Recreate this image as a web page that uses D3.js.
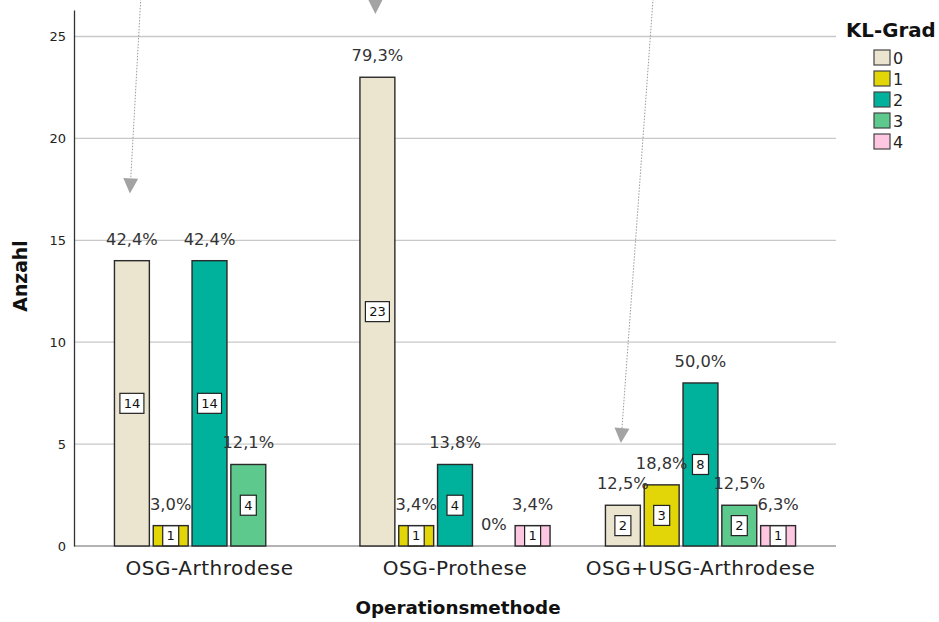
<!DOCTYPE html>
<html>
<head>
<meta charset="utf-8">
<script src="https://cdn.jsdelivr.net/npm/d3@7/dist/d3.min.js"></script>
<style>
  html, body { margin: 0; padding: 0; background: #fff; }
  svg { display: block; font-family: "DejaVu Sans", sans-serif; }
</style>
</head>
<body>
<svg id="chart" width="939" height="622"></svg>
<script>
// Operationsmethode × KL-Grad: counts per grade, percent of row total
const categories = ["OSG-Arthrodese", "OSG-Prothese", "OSG+USG-Arthrodese"];
const grades = ["0", "1", "2", "3", "4"];
const gradeColors = ["#ebe5d0", "#e3d608", "#00b19c", "#5ec98d", "#fdc6e1"];

const countsArthrodese = [14, 1, 14, 4, 0];
const countsProthese = [23, 1, 4, 0, 1];
const countsOsgUsg = [2, 3, 8, 2, 1];

// null = no label drawn
const pctArthrodese = [42.4, 3.0, 42.4, 12.1, null];
const pctProthese = [79.3, 3.4, 13.8, 0, 3.4];
const pctOsgUsg = [12.5, 18.8, 50.0, 12.5, 6.3];

const yTicks = [0, 5, 10, 15, 20, 25];

// annotation arrows pointing down at the grade-0 bars
const arrowTargets = [
  { category: "OSG-Arthrodese", tipValue: 17.3, dx: 13 },
  { category: "OSG-Prothese", tipValue: 26.1, dx: 0 },
  { category: "OSG+USG-Arthrodese", tipValue: 5.05, dx: 35 }
];

const countsByCat = [countsArthrodese, countsProthese, countsOsgUsg];
const pctByCat = [pctArthrodese, pctProthese, pctOsgUsg];

const rows = [];
categories.forEach((c, ci) => {
  grades.forEach((g, gi) => {
    rows.push({ category: c, grade: g, gi, count: countsByCat[ci][gi], pct: pctByCat[ci][gi] });
  });
});

const svg = d3.select("#chart");
const plotLeft = 74, plotRight = 836, plotTop = 10, plotBottom = 546;

const x0 = d3.scalePoint().domain(categories).range([plotLeft, plotRight]).padding(0.552);
const x1 = d3.scaleBand().domain(grades).range([-97, 97]).paddingInner(0.1).paddingOuter(0.05);
const y = d3.scaleLinear().domain([0, 26.3]).range([plotBottom, plotTop]);

const fmtPct = v => v === 0 ? "0%" : d3.format(".1f")(v).replace(".", ",") + "%";

// gridlines
svg.append("g")
  .selectAll("line")
  .data(yTicks.filter(t => t > 0))
  .join("line")
  .attr("x1", plotLeft).attr("x2", plotRight)
  .attr("y1", d => y(d)).attr("y2", d => y(d))
  .attr("stroke", "#c8c8c8").attr("stroke-width", 1.3);

// x baseline
svg.append("line")
  .attr("x1", plotLeft).attr("x2", plotRight)
  .attr("y1", y(0)).attr("y2", y(0))
  .attr("stroke", "#9a9a9a").attr("stroke-width", 1.3);

// y axis
const yAxis = svg.append("g")
  .attr("transform", `translate(${plotLeft},0)`)
  .call(d3.axisLeft(y).tickValues(yTicks).tickSize(0).tickPadding(8));
yAxis.select(".domain").attr("stroke", "#333").attr("stroke-width", 1.3);
yAxis.selectAll("text").attr("font-size", 13).attr("fill", "#222")
  .attr("font-family", "DejaVu Sans, sans-serif");

// bars
const bars = rows.filter(d => d.count > 0);
svg.append("g")
  .selectAll("rect")
  .data(bars)
  .join("rect")
  .attr("x", d => x0(d.category) + x1(d.grade))
  .attr("y", d => y(d.count))
  .attr("width", x1.bandwidth())
  .attr("height", d => y(0) - y(d.count))
  .attr("fill", d => gradeColors[d.gi])
  .attr("stroke", "#2a2a2a").attr("stroke-width", 1.4);

// count boxes at bar centre
const boxes = svg.append("g").selectAll("g")
  .data(bars)
  .join("g")
  .attr("transform", d => `translate(${x0(d.category) + x1(d.grade) + x1.bandwidth() / 2},${(y(d.count) + y(0)) / 2})`);
boxes.append("rect")
  .attr("x", d => -(String(d.count).length * 8 + 8) / 2)
  .attr("y", -10)
  .attr("width", d => String(d.count).length * 8 + 8)
  .attr("height", 20)
  .attr("fill", "#fff").attr("stroke", "#222").attr("stroke-width", 1.2);
boxes.append("text")
  .attr("text-anchor", "middle").attr("dy", "0.36em")
  .attr("font-size", 13).attr("fill", "#111")
  .text(d => d.count);

// percent labels above bars
svg.append("g")
  .selectAll("text")
  .data(rows.filter(d => d.pct !== null))
  .join("text")
  .attr("x", d => x0(d.category) + x1(d.grade) + x1.bandwidth() / 2)
  .attr("y", d => y(d.count) - 16)
  .attr("text-anchor", "middle")
  .attr("font-size", 16.3).attr("fill", "#333")
  .text(d => fmtPct(d.pct));

// category labels
svg.append("g")
  .selectAll("text")
  .data(categories)
  .join("text")
  .attr("x", d => x0(d))
  .attr("y", 575)
  .attr("text-anchor", "middle")
  .attr("font-size", 20).attr("letter-spacing", 0.5).attr("fill", "#222")
  .text(d => d);

// axis titles
svg.append("text")
  .attr("x", 458).attr("y", 614)
  .attr("text-anchor", "middle")
  .attr("font-size", 18.3).attr("font-weight", "bold").attr("fill", "#111")
  .text("Operationsmethode");

svg.append("text")
  .attr("transform", "translate(27,276) rotate(-90)")
  .attr("text-anchor", "middle")
  .attr("font-size", 18.8).attr("font-weight", "bold").attr("fill", "#111")
  .text("Anzahl");

// legend
const legend = svg.append("g").attr("transform", "translate(846,0)");
legend.append("text")
  .attr("x", 0).attr("y", 37)
  .attr("font-size", 19.8).attr("font-weight", "bold").attr("fill", "#111")
  .text("KL-Grad");
const li = legend.selectAll("g.item")
  .data(grades)
  .join("g")
  .attr("class", "item")
  .attr("transform", (d, i) => `translate(28,${50 + i * 21})`);
li.append("rect")
  .attr("width", 16).attr("height", 15)
  .attr("fill", (d, i) => gradeColors[i])
  .attr("stroke", "#444").attr("stroke-width", 1.2);
li.append("text")
  .attr("x", 19).attr("y", 8).attr("dy", "0.36em")
  .attr("font-size", 16).attr("fill", "#222")
  .text(d => d);

// annotation arrows
const arrows = svg.append("g");
arrowTargets.forEach(a => {
  const tx = x0(a.category) + x1("0") + x1.bandwidth() / 2 - 2;
  const ty = y(a.tipValue);
  const sx = tx + a.dx, sy = -40;
  const headLen = 15;
  const ang = Math.atan2(ty - sy, tx - sx);
  const bx = tx - headLen * Math.cos(ang), by = ty - headLen * Math.sin(ang);
  arrows.append("line")
    .attr("x1", sx).attr("y1", sy).attr("x2", bx).attr("y2", by)
    .attr("stroke", "#9c9c9c").attr("stroke-width", 1)
    .attr("stroke-dasharray", "1.5,1.5");
  const px = -Math.sin(ang), py = Math.cos(ang);
  arrows.append("path")
    .attr("d", `M${tx},${ty} L${bx + px * 7.5},${by + py * 7.5} L${bx - px * 7.5},${by - py * 7.5} Z`)
    .attr("fill", "#a3a3a3");
});
</script>
</body>
</html>
